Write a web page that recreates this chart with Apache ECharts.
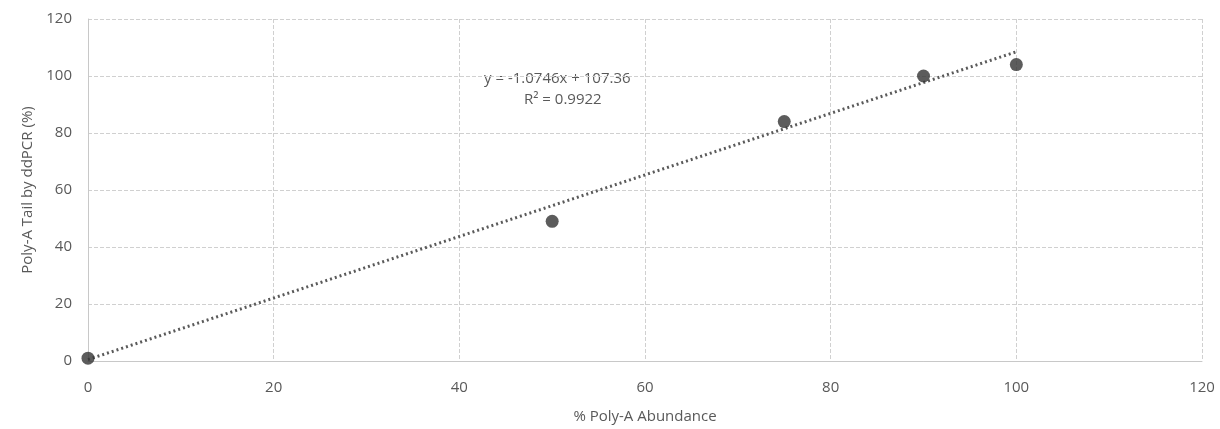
<!DOCTYPE html>
<html><head><meta charset="utf-8">
<script src="https://cdn.jsdelivr.net/npm/echarts@6/dist/echarts.min.js"></script>
<style>html,body{margin:0;padding:0;background:#fff}#c{width:1220px;height:429px}</style>
</head><body><div id="c"></div>
<script>
const xValues = [0, 50, 75, 90, 100];
const yValues = [1, 49, 84, 100, 104];
const trendX = [0, 100];
const trendY = [0.5, 108.5];
const xTicks = [0, 20, 40, 60, 80, 100, 120];
const yTicks = [0, 20, 40, 60, 80, 100, 120];
const equationText = 'y = -1.0746x + 107.36';
const r2Text = 'R² = 0.9922';
const xTitle = '% Poly-A Abundance';
const yTitle = 'Poly-A Tail by ddPCR (%)';

const chart = echarts.init(document.getElementById('c'));
const font = 'Open Sans, Noto Sans, sans-serif';
chart.setOption({
  animation: false,
  grid: {left: 88, right: 18, top: 19, bottom: 66},
  xAxis: {
    type: 'value', min: xTicks[0], max: xTicks[xTicks.length-1], interval: 20,
    name: xTitle, nameLocation: 'middle', nameGap: 48,
    nameTextStyle: {color: '#595959', fontSize: 15, fontFamily: font},
    axisLine: {show: true, lineStyle: {color: '#c8c8c8'}},
    axisTick: {show: false},
    axisLabel: {color: '#595959', fontSize: 15, fontFamily: font, margin: 19},
    splitLine: {show: true, lineStyle: {color: '#d0d0d0', type: 'dashed', width: 1}}
  },
  yAxis: {
    type: 'value', min: yTicks[0], max: yTicks[yTicks.length-1], interval: 20,
    name: yTitle, nameLocation: 'middle', nameGap: 44,
    nameTextStyle: {color: '#595959', fontSize: 15, fontFamily: font},
    axisLine: {show: true, lineStyle: {color: '#c8c8c8'}},
    axisTick: {show: false},
    axisLabel: {color: '#595959', fontSize: 15, fontFamily: font, margin: 16},
    splitLine: {show: true, lineStyle: {color: '#d0d0d0', type: 'dashed', width: 1}}
  },
  series: [
    {
      type: 'line', data: trendX.map((x, i) => [x, trendY[i]]),
      symbol: 'none', silent: true,
      lineStyle: {color: '#5a5a5a', width: 3, type: [2, 3]},
      z: 2
    },
    {
      type: 'scatter', data: xValues.map((x, i) => [x, yValues[i]]),
      symbol: 'circle', symbolSize: 13,
      itemStyle: {color: '#333333'},
      z: 3
    }
  ],
  graphic: [
    {type: 'text', left: 484, top: 71, style: {text: equationText, fill: '#595959', fontSize: 15, fontFamily: font}},
    {type: 'text', left: 524, top: 92, style: {text: r2Text, fill: '#595959', fontSize: 15, fontFamily: font}}
  ]
});
</script></body></html>
